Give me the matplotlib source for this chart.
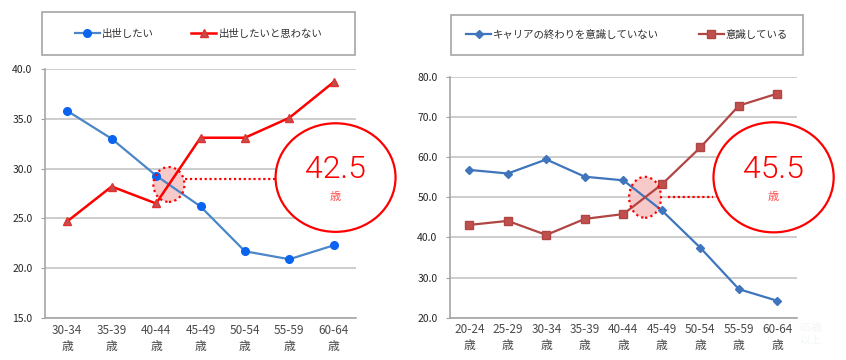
import matplotlib.pyplot as plt
from matplotlib.patches import Ellipse, Rectangle

plt.rcParams['font.family'] = ['Noto Sans CJK JP', 'DejaVu Sans']

# 左: 出世意欲
ages_l = ['30-34\n歳', '35-39\n歳', '40-44\n歳', '45-49\n歳', '50-54\n歳', '55-59\n歳', '60-64\n歳']
shusse_yes = [35.8, 33.0, 29.3, 26.2, 21.7, 20.9, 22.3]
shusse_no = [24.7, 28.2, 26.5, 33.1, 33.1, 35.1, 38.7]
label_yes = '出世したい'
label_no = '出世したいと思わない'
age_l = '42.5'

# 右: キャリアの終わり
ages_r = ['20-24\n歳', '25-29\n歳', '30-34\n歳', '35-39\n歳', '40-44\n歳',
          '45-49\n歳', '50-54\n歳', '55-59\n歳', '60-64\n歳']
ishiki_no = [56.8, 55.9, 59.4, 55.1, 54.2, 46.7, 37.4, 27.1, 24.2]
ishiki_yes = [43.1, 44.1, 40.6, 44.6, 45.8, 53.2, 62.4, 72.8, 75.8]
label_ishiki_no = 'キャリアの終わりを意識していない'
label_ishiki_yes = '意識している'
age_r = '45.5'

W, H = 846, 360
fig = plt.figure(figsize=(W / 100, H / 100), dpi=100)


def px(x0, y_top, x1, y_bot):
    return [x0 / W, 1 - y_bot / H, (x1 - x0) / W, (y_bot - y_top) / H]


def style_axes(ax, labels, ylim, step):
    n = len(labels)
    ax.set_xlim(-0.5, n - 0.5)
    ax.set_ylim(*ylim)
    ax.set_xticks(range(n))
    ax.set_xticklabels(labels, fontsize=8.5, color='#4a4a4a', linespacing=1.3)
    yt = [ylim[0] + i * step for i in range(int(round((ylim[1] - ylim[0]) / step)) + 1)]
    ax.set_yticks(yt)
    ax.set_yticklabels([f'{v:.1f}' for v in yt], fontsize=7.5, color='#262626')
    ax.tick_params(axis='x', length=0, pad=4)
    ax.tick_params(axis='y', length=3, color='#a0a0a0', pad=6)
    for s in ['top', 'right']:
        ax.spines[s].set_visible(False)
    for s in ['left', 'bottom']:
        ax.spines[s].set_color('#a6a6a6')
        ax.spines[s].set_linewidth(1.2)
    ax.grid(axis='y', color='#c0c0c0', linewidth=1.1)
    ax.set_axisbelow(True)


def crossing(a, b):
    for i in range(len(a) - 1):
        d0, d1 = a[i] - b[i], a[i + 1] - b[i + 1]
        if d0 * d1 < 0:
            t = d0 / (d0 - d1)
            return i + t, a[i] + t * (a[i + 1] - a[i])


def callout(ax, a, b, small_w, small_h, big_xy, big_w, big_h, x_from, y_line, text):
    cx, cy = crossing(a, b)
    ax.add_patch(Ellipse((cx, cy), small_w, small_h, facecolor='#f8c4c4',
                         edgecolor='none', zorder=1, alpha=0.9))
    ax.add_patch(Ellipse((cx, cy), small_w, small_h, facecolor='none',
                         edgecolor='#ff0000', linestyle=(0, (1, 1.5)), linewidth=1.6, zorder=4))
    ax.plot([x_from, big_xy[0] - big_w / 2], [y_line, y_line], color='#ff0000',
            linestyle=(0, (1, 1.2)), linewidth=1.6, zorder=4, clip_on=False)
    ax.add_patch(Ellipse(big_xy, big_w, big_h, facecolor='white', edgecolor='#ff0000',
                         linewidth=1.6, zorder=5, clip_on=False))
    ax.text(big_xy[0], big_xy[1] + big_h * 0.07, text, fontsize=23, color='#ff0000',
            ha='center', va='center', zorder=6, weight=300,
            family=['Roboto', 'Liberation Sans', 'DejaVu Sans'])
    ax.text(big_xy[0], big_xy[1] - big_h * 0.18, '歳', fontsize=8, color='#ff4d4d',
            ha='center', va='center', zorder=6)


def legend_box(x0, y0, x1, y1, ax, ncol_space):
    fig.patches.append(Rectangle((x0 / W, 1 - y1 / H), (x1 - x0) / W, (y1 - y0) / H,
                                 transform=fig.transFigure, facecolor='white',
                                 edgecolor='#a6a6a6', linewidth=1.2))
    fig.legend(*ax.get_legend_handles_labels(), loc='center', ncol=2,
               bbox_to_anchor=((x0 + x1) / 2 / W, 1 - (y0 + y1) / 2 / H),
               frameon=False, fontsize=7.5, handlelength=2.4, handletextpad=0.2,
               columnspacing=ncol_space, labelcolor='#303030')


# 左グラフ
ax1 = fig.add_axes(px(45, 69, 356, 318))
style_axes(ax1, ages_l, (15, 40), 5)
x_l = range(len(ages_l))
ax1.plot(x_l, shusse_yes, color='#4a86c8', linewidth=1.6, marker='o', markersize=5.5,
         markerfacecolor='#0a64f0', markeredgecolor='#0a64f0', label=label_yes, zorder=3)
ax1.plot(x_l, shusse_no, color='#ff0000', linewidth=1.8, marker='^', markersize=5.5,
         markerfacecolor='#c0504d', markeredgecolor='#e03030', label=label_no, zorder=3)
callout(ax1, shusse_yes, shusse_no, 0.70, 3.5, (6.04, 29.1), 2.70, 10.9, 2.66, 29.0, age_l)
legend_box(42, 12, 355, 55, ax1, 3.6)

# 右グラフ
ax2 = fig.add_axes(px(450, 76.7, 796.7, 317.7))
style_axes(ax2, ages_r, (20, 80), 10)
x_r = range(len(ages_r))
ax2.plot(x_r, ishiki_no, color='#3f75bd', linewidth=1.6, marker='D', markersize=4.5,
         markerfacecolor='#3f75bd', markeredgecolor='#3f75bd', label=label_ishiki_no, zorder=3)
ax2.plot(x_r, ishiki_yes, color='#b04543', linewidth=1.6, marker='s', markersize=5.5,
         markerfacecolor='#c0504d', markeredgecolor='#b04543', label=label_ishiki_yes, zorder=3)
cx, cy = crossing(ishiki_no, ishiki_yes)
callout(ax2, ishiki_no, ishiki_yes, 0.83, 10.2, (7.9, 54.95), 3.12, 27.4, 5.15, cy, age_r)
legend_box(450.7, 15, 803.3, 55, ax2, 3.8)

fig.text(811 / W, 1 - 334 / H, '65歳\n以上', fontsize=8, color='#f2f6f5',
         ha='center', va='center', linespacing=1.3)

fig.savefig('out.png', dpi=100)
